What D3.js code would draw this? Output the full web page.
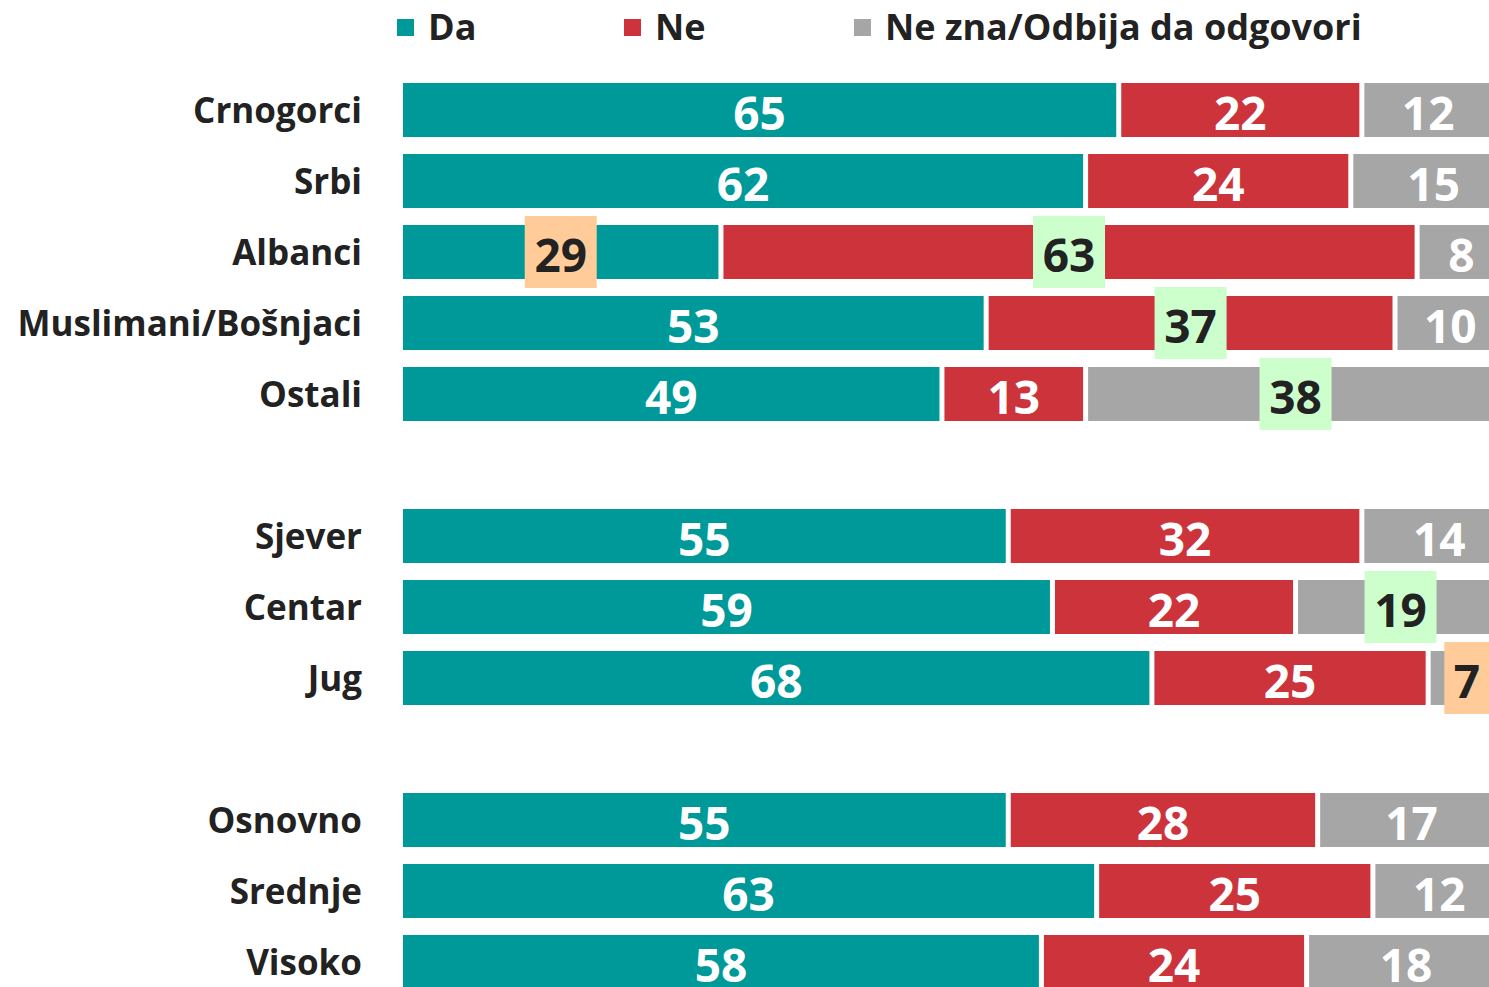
<!DOCTYPE html>
<html>
<head>
<meta charset="utf-8">
<script src="https://cdn.jsdelivr.net/npm/d3@7"></script>
<style>
  html, body { margin: 0; padding: 0; background: #fff; overflow: hidden; }
  svg text { font-family: "Open Sans", "Noto Sans", sans-serif; font-weight: 700; }
</style>
</head>
<body>
<div id="chart"></div>
<script>
// categories (blank entries are spacer rows between the groups)
const categories = ["Crnogorci", "Srbi", "Albanci", "Muslimani/Bošnjaci", "Ostali", "",
                    "Sjever", "Centar", "Jug", " ",
                    "Osnovno", "Srednje", "Visoko"];
const seriesNames = ["Da", "Ne", "Ne zna/Odbija da odgovori"];
const da    = [65, 62, 29, 53, 49, null, 55, 59, 68, null, 55, 63, 58];
const ne    = [22, 24, 63, 37, 13, null, 32, 22, 25, null, 28, 25, 24];
const nezna = [12, 15,  8, 10, 38, null, 14, 19,  7, null, 17, 12, 18];
// highlighted labels: [row, series index, box colour]
const highlights = [
  ["Albanci", 0, "#FFCC99"], ["Albanci", 1, "#CCFFCC"],
  ["Muslimani/Bošnjaci", 1, "#CCFFCC"], ["Ostali", 2, "#CCFFCC"],
  ["Centar", 2, "#CCFFCC"], ["Jug", 2, "#FFCC99"]
];
const colors = ["#009999", "#CC333B", "#A6A6A6"];

const W = 1489, H = 987;
const svg = d3.select("#chart").append("svg")
  .attr("width", W).attr("height", H);

// the plot runs past the right edge, like the cropped original
const x = d3.scaleLinear().domain([0, 100]).range([403, 1508]);
const y = d3.scaleBand().domain(categories).range([83, 83 + 71 * 13]).padding(0);

const rows = categories.map((c, i) => ({ cat: c, vals: [da[i], ne[i], nezna[i]] }))
  .filter(d => d.vals[0] != null);

const gap = 5;
const bandH = 54;

rows.forEach(r => {
  let cum = 0;
  const y0 = y(r.cat);
  const g = svg.append("g");
  r.vals.forEach((v, si) => {
    const x0 = x(cum), x1 = x(cum + v);
    g.append("rect")
      .attr("x", x0).attr("y", y0)
      .attr("width", Math.max(0, x1 - x0 - gap)).attr("height", bandH)
      .attr("fill", colors[si]);
    cum += v;
  });
  cum = 0;
  r.vals.forEach((v, si) => {
    const x0 = x(cum), x1 = x(cum + v);
    const cx = (x0 + x1 - gap) / 2;
    const cy = y0 + bandH / 2 + 2;
    const hl = highlights.find(h => h[0] === r.cat && h[1] === si);
    if (hl) {
      const bw = String(v).length === 1 ? 45 : 72;
      g.append("rect")
        .attr("x", cx - bw / 2).attr("y", y0 + bandH / 2 - 36)
        .attr("width", bw).attr("height", 72)
        .attr("fill", hl[2]);
    }
    g.append("text")
      .attr("x", cx).attr("y", cy)
      .attr("text-anchor", "middle")
      .attr("dominant-baseline", "central")
      .attr("font-size", 46)
      .attr("fill", hl ? "#222222" : "#ffffff")
      .text(v);
    cum += v;
  });
  svg.append("text")
    .attr("x", 362).attr("y", y0 + bandH / 2 - 1)
    .attr("text-anchor", "end")
    .attr("dominant-baseline", "central")
    .attr("font-size", 35)
    .attr("fill", "#222222")
    .text(r.cat);
});

// legend
const legendX = [397, 624, 854];
const legend = svg.append("g");
seriesNames.forEach((s, i) => {
  legend.append("rect")
    .attr("x", legendX[i]).attr("y", 19)
    .attr("width", 17).attr("height", 17)
    .attr("fill", colors[i]);
  legend.append("text")
    .attr("x", legendX[i] + 31).attr("y", 26)
    .attr("dominant-baseline", "central")
    .attr("font-size", 36)
    .attr("fill", "#222222")
    .text(s);
});
</script>
</body>
</html>
